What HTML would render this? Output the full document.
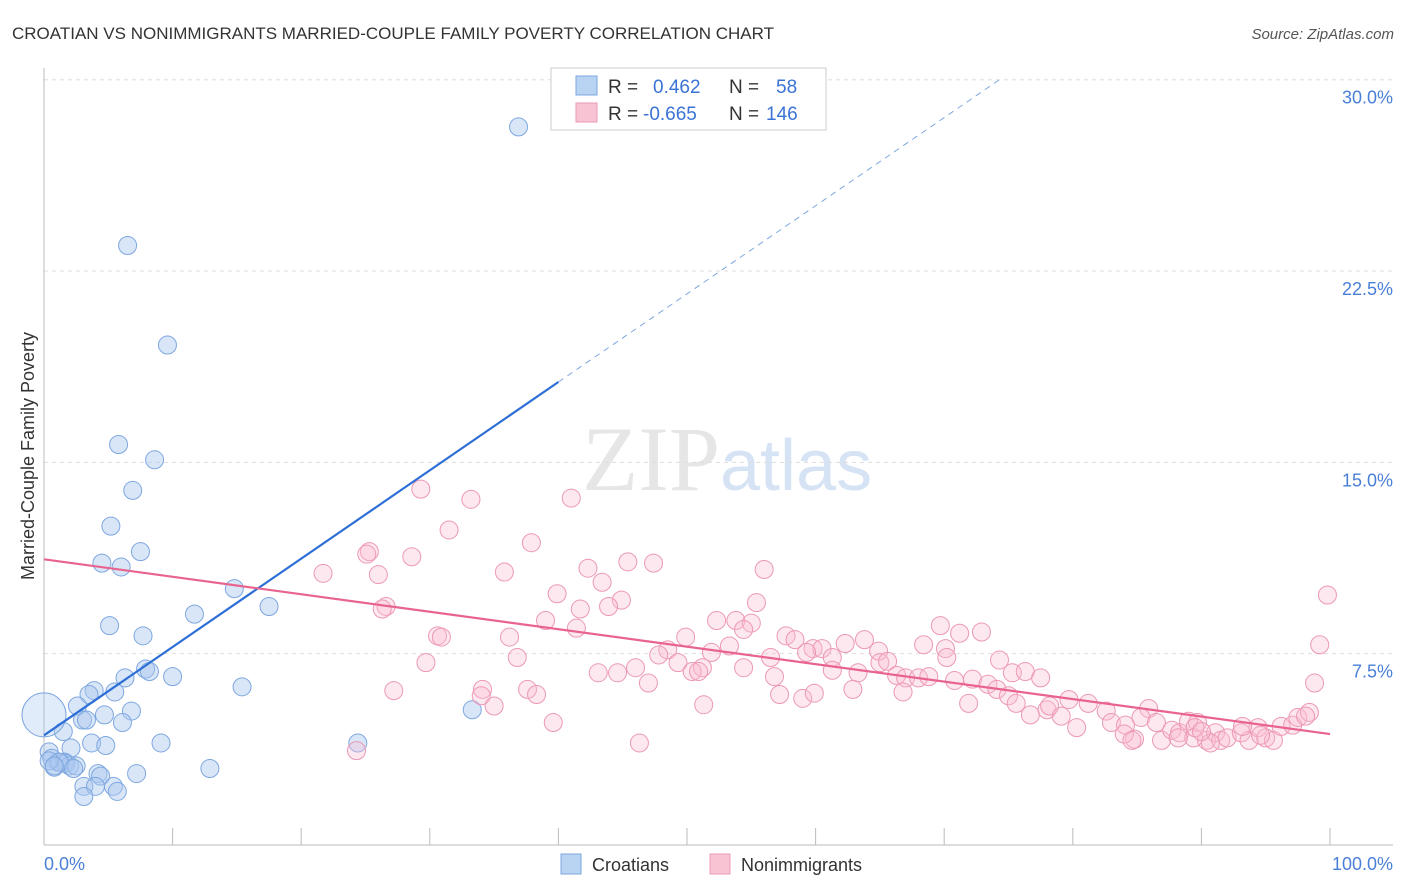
<!DOCTYPE html>
<html><head><meta charset="utf-8"><style>
body{margin:0;background:#fff;font-family:"Liberation Sans",sans-serif;}
#wrap{position:relative;width:1406px;height:892px;overflow:hidden;}
</style></head><body>
<div id="wrap">
<svg id="svg" width="1406" height="892" xmlns="http://www.w3.org/2000/svg">
<text x="12" y="39" font-size="17" fill="#333">CROATIAN VS NONIMMIGRANTS MARRIED-COUPLE FAMILY POVERTY CORRELATION CHART</text>
<text x="1394" y="39" font-size="15" fill="#555" font-style="italic" text-anchor="end">Source: ZipAtlas.com</text>
<text x="720" y="490" font-size="92" fill="#e6e6e6" font-family="Liberation Serif" text-anchor="end">ZIP</text>
<text x="720" y="490" font-size="72" fill="#d5e3f5">atlas</text>
<g id="grid"></g>
<g id="axes"></g>
<g id="marks"></g>
<text transform="translate(34,456) rotate(-90)" font-size="18" fill="#333" text-anchor="middle">Married-Couple Family Poverty</text>
<text x="44" y="870" font-size="18" fill="#4a7fd8">0.0%</text>
<text x="1393" y="870" font-size="18" fill="#4a7fd8" text-anchor="end">100.0%</text>
<g>
<rect x="551" y="68" width="275" height="62" fill="#fff" stroke="#ccc"/>
<rect x="576" y="76" width="21" height="19" fill="#b9d3f3" stroke="#7ea7e0"/>
<rect x="576" y="103" width="21" height="19" fill="#f8c3d3" stroke="#eb98b4"/>
<text x="608" y="93" font-size="19" fill="#333">R = </text><text x="653" y="93" font-size="19" fill="#3a73d6">0.462</text>
<text x="729" y="93" font-size="19" fill="#333">N = </text><text x="776" y="93" font-size="19" fill="#3a73d6">58</text>
<text x="608" y="120" font-size="19" fill="#333">R = </text><text x="643" y="120" font-size="19" fill="#3a73d6">-0.665</text>
<text x="729" y="120" font-size="19" fill="#333">N = </text><text x="766" y="120" font-size="19" fill="#3a73d6">146</text>
</g>
<g>
<rect x="561" y="854" width="20" height="20" fill="#b9d3f3" stroke="#7ea7e0"/>
<text x="592" y="871" font-size="18" fill="#333">Croatians</text>
<rect x="710" y="854" width="20" height="20" fill="#f8c3d3" stroke="#eb98b4"/>
<text x="741" y="871" font-size="18" fill="#333">Nonimmigrants</text>
</g>
</svg>
</div>
<script>
const yTicks=[7.5,15,22.5,30];
const yTickLabels=["7.5%","15.0%","22.5%","30.0%"];
const blueX=[36.9,6.5,9.6,5.8,8.6,6.9,5.2,7.5,4.5,6.0,14.8,11.7,17.5,5.1,7.7,7.9,8.2,10.0,6.3,15.4,3.9,3.5,5.5,2.6,6.8,4.7,3.0,6.1,3.3,1.5,3.7,4.8,9.1,2.1,0.4,0.6,24.4,33.3,1.6,1.1,1.7,2.0,2.5,0.8,1.2,2.3,4.2,4.4,12.9,7.2,3.1,4.0,5.4,5.7,3.1,0.4,0.8,0];
const blueY=[28.15,23.5,19.6,15.7,15.1,13.9,12.5,11.5,11.05,10.9,10.05,9.05,9.35,8.6,8.2,6.9,6.8,6.6,6.55,6.2,6.05,5.9,6.0,5.45,5.25,5.1,4.9,4.8,4.9,4.45,4.0,3.9,4.0,3.8,3.65,3.4,4.0,5.3,3.25,3.25,3.2,3.1,3.1,3.05,3.25,3.0,2.8,2.7,3.0,2.8,2.3,2.3,2.3,2.1,1.9,3.3,3.1,5.1];
const blueR=[9,9,9,9,9,9,9,9,9,9,9,9,9,9,9,9,9,9,9,9,9,9,9,9,9,9,9,9,9,9,9,9,9,9,9,9,9,9,9,9,9,9,9,9,9,9,9,9,9,9,9,9,9,9,9,9,9,22];
const pinkX=[29.3,33.2,41.0,31.5,37.9,25.3,25.1,28.6,21.7,26.0,35.8,45.4,47.4,42.3,43.4,56.0,39.9,44.9,26.6,26.3,41.7,43.9,55.4,39.0,52.3,53.8,55.0,41.4,54.4,30.6,30.9,36.2,49.9,57.7,58.4,63.8,62.3,59.8,60.5,69.7,71.2,72.9,68.4,70.1,53.3,51.9,64.9,48.5,36.8,47.8,29.7,56.5,59.3,61.3,65.0,65.6,70.2,74.3,49.3,51.2,43.1,44.6,46.0,50.4,50.9,54.4,61.3,63.3,66.3,67.0,68.0,68.8,70.8,72.2,73.4,75.3,76.3,77.5,47.0,56.8,27.2,34.1,37.6,38.3,34.0,35.0,51.3,57.2,59.0,59.9,62.9,66.8,71.9,74.1,75.0,75.6,76.7,78.0,78.2,79.7,79.1,81.2,82.6,80.3,83.0,84.1,85.9,85.3,86.5,84.8,84.0,84.6,86.9,87.7,88.3,89.0,89.7,89.4,90.4,91.1,91.5,92.0,93.1,93.7,94.4,95.0,95.6,96.2,97.1,97.5,98.4,98.1,98.8,99.2,99.8,39.6,46.3,24.3,89.5,93.2,88.2,90.7,94.6,90.0];
const pinkY=[13.95,13.55,13.6,12.35,11.85,11.5,11.4,11.3,10.65,10.6,10.7,11.1,11.05,10.85,10.3,10.8,9.85,9.6,9.35,9.25,9.25,9.35,9.5,8.8,8.8,8.8,8.7,8.5,8.45,8.2,8.15,8.15,8.15,8.2,8.05,8.05,7.9,7.7,7.7,8.6,8.3,8.35,7.85,7.7,7.8,7.55,7.6,7.65,7.35,7.45,7.15,7.35,7.55,7.35,7.15,7.2,7.35,7.25,7.15,6.95,6.75,6.75,6.95,6.8,6.8,6.95,6.85,6.75,6.65,6.55,6.55,6.6,6.45,6.5,6.3,6.75,6.8,6.55,6.35,6.6,6.05,6.1,6.1,5.9,5.85,5.45,5.5,5.9,5.75,5.95,6.1,6.0,5.55,6.1,5.85,5.55,5.1,5.3,5.45,5.7,5.05,5.55,5.25,4.6,4.8,4.7,5.35,5.0,4.8,4.15,4.35,4.1,4.1,4.5,4.4,4.85,4.8,4.2,4.1,4.4,4.1,4.2,4.4,4.1,4.6,4.2,4.1,4.65,4.7,5.0,5.2,5.05,6.35,7.85,9.8,4.8,4.0,3.7,4.6,4.65,4.2,4.0,4.3,4.45];
const blueTrend=[[0,4.3],[40,18.15]];
const blueTrendDash=[[40,18.15],[74.3,30]];
const pinkTrend=[[0,11.2],[100,4.35]];
const NS="http://www.w3.org/2000/svg";
const X=v=>44+v*12.86, Y=v=>845-v*25.51;
function mk(t,a,p){const e=document.createElementNS(NS,t);for(const k in a)e.setAttribute(k,a[k]);p.appendChild(e);return e;}
const grid=document.getElementById('grid'),axes=document.getElementById('axes'),marks=document.getElementById('marks');
yTicks.forEach((t,i)=>{
 const l=mk('line',{x1:44,x2:1393,y1:Y(t),y2:Y(t),stroke:'#ddd','stroke-dasharray':'4,4'},grid);
 
 
 const tx=mk('text',{x:1393,y:Y(t)+24,'font-size':18,fill:'#4a7fd8','text-anchor':'end'},grid);
 tx.textContent=yTickLabels[i];
 
 
});
let a=mk('line',{x1:44,x2:44,y1:68,y2:845,stroke:'#bbb'},axes);


a=mk('line',{x1:44,x2:1393,y1:845,y2:845,stroke:'#bbb'},axes);


for(let i=1;i<=10;i++){const t=mk('line',{x1:X(i*10),x2:X(i*10),y1:828,y2:845,stroke:'#bbb'},axes);
 
 }
blueX.forEach((v,i)=>{const big=blueR[i]>12;const c=mk('circle',{cx:X(v),cy:Y(blueY[i]),r:blueR[i],fill:big?'rgba(170,200,240,0.35)':'rgba(170,200,240,0.45)',stroke:'#7ea7e0','stroke-width':1},marks);
 
 });
pinkX.forEach((v,i)=>{const c=mk('circle',{cx:X(v),cy:Y(pinkY[i]),r:9,fill:'rgba(248,190,210,0.35)',stroke:'#ec98b6','stroke-width':1},marks);
 
 });
let tl=mk('line',{x1:X(blueTrend[0][0]),y1:Y(blueTrend[0][1]),x2:X(blueTrend[1][0]),y2:Y(blueTrend[1][1]),stroke:'#2d6fd6','stroke-width':2.2},marks);


tl=mk('line',{x1:X(blueTrendDash[0][0]),y1:Y(blueTrendDash[0][1]),x2:X(blueTrendDash[1][0]),y2:Y(blueTrendDash[1][1]),stroke:'#7ea7e0','stroke-width':1,'stroke-dasharray':'6,5'},marks);


tl=mk('line',{x1:X(pinkTrend[0][0]),y1:Y(pinkTrend[0][1]),x2:X(pinkTrend[1][0]),y2:Y(pinkTrend[1][1]),stroke:'#e8648f','stroke-width':2.2},marks);


</script>
</body></html>
